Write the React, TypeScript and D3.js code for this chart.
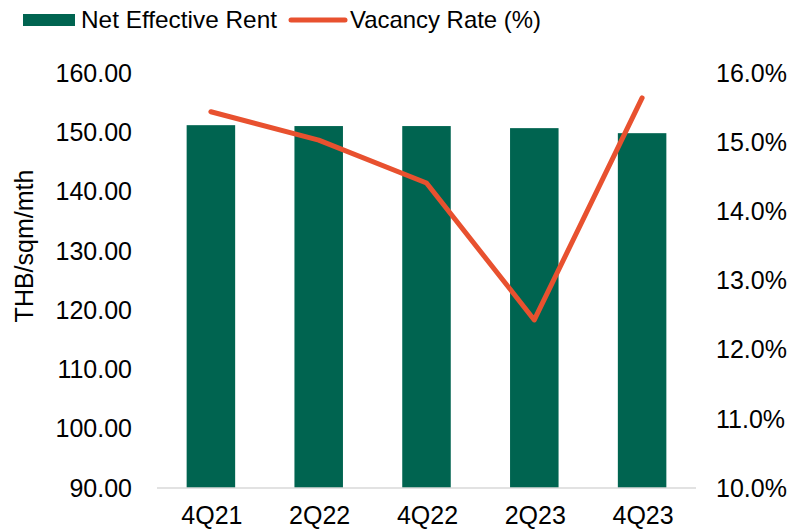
import React from "react";
import * as d3 from "d3";

const categories = ["4Q21", "2Q22", "4Q22", "2Q23", "4Q23"];
const rentValues = [151.2, 151.05, 151.05, 150.7, 149.85];
const vacancyValues = [15.44, 15.03, 14.41, 12.43, 15.64];
const leftTicks = [90, 100, 110, 120, 130, 140, 150, 160];
const rightTicks = [10, 11, 12, 13, 14, 15, 16];

const W = 797;
const H = 529;
const M = { top: 73, bottom: 41, left: 157, right: 101 };
const GREEN = "#006450";
const ORANGE = "#E8512F";
const FONT = "'Liberation Sans', Arial, sans-serif";
const FS = 25;

export default function App() {
  const x = d3
    .scaleBand<string>()
    .domain(categories)
    .range([M.left, W - M.right])
    .paddingInner(0.55)
    .paddingOuter(0.275);
  const yL = d3.scaleLinear().domain([90, 160]).range([H - M.bottom, M.top]);
  const yR = d3.scaleLinear().domain([10, 16]).range([H - M.bottom, M.top]);
  const line = d3
    .line<number>()
    .x((_, i) => (x(categories[i]) as number) + x.bandwidth() / 2)
    .y((d) => yR(d));

  return (
    <svg
      width={W}
      height={H}
      style={{ position: "absolute", left: 0, top: 0, background: "#fff" }}
      fontFamily={FONT}
    >
      {/* legend */}
      <rect x={23} y={14} width={52} height={12} fill={GREEN} />
      <text x={81} y={28} fontSize={24} fill="#000" textLength={196} lengthAdjust="spacingAndGlyphs">
        Net Effective Rent
      </text>
      <line x1={291} y1={20} x2={345} y2={20} stroke={ORANGE} strokeWidth={5} strokeLinecap="round" />
      <text x={350} y={28} fontSize={24} fill="#000" textLength={191} lengthAdjust="spacingAndGlyphs">
        Vacancy Rate (%)
      </text>

      {/* bars */}
      {rentValues.map((v, i) => (
        <rect
          key={categories[i]}
          x={x(categories[i])}
          y={yL(v)}
          width={x.bandwidth()}
          height={yL(90) - yL(v)}
          fill={GREEN}
        />
      ))}

      {/* baseline */}
      <line x1={M.left} x2={W - M.right} y1={yL(90)} y2={yL(90)} stroke="#d9d9d9" strokeWidth={1.5} />

      {/* line */}
      <path d={line(vacancyValues) || ""} fill="none" stroke={ORANGE} strokeWidth={5} strokeLinecap="round" strokeLinejoin="round" />

      {/* left ticks */}
      {leftTicks.map((t) => (
        <text key={t} x={132} y={yL(t)} dy="0.35em" textAnchor="end" fontSize={FS} fill="#000">
          {t.toFixed(2)}
        </text>
      ))}
      {/* right ticks */}
      {rightTicks.map((t) => (
        <text key={t} x={716} y={yR(t)} dy="0.35em" textAnchor="start" fontSize={FS} fill="#000">
          {t.toFixed(1) + "%"}
        </text>
      ))}
      {/* x labels */}
      {categories.map((c) => (
        <text key={c} x={(x(c) as number) + x.bandwidth() / 2 + 1} y={H - 5} textAnchor="middle" fontSize={FS} fill="#000">
          {c}
        </text>
      ))}
      {/* y title */}
      <text transform={`translate(33,246) rotate(-90)`} textAnchor="middle" fontSize={FS} fill="#000">
        THB/sqm/mth
      </text>
    </svg>
  );
}
